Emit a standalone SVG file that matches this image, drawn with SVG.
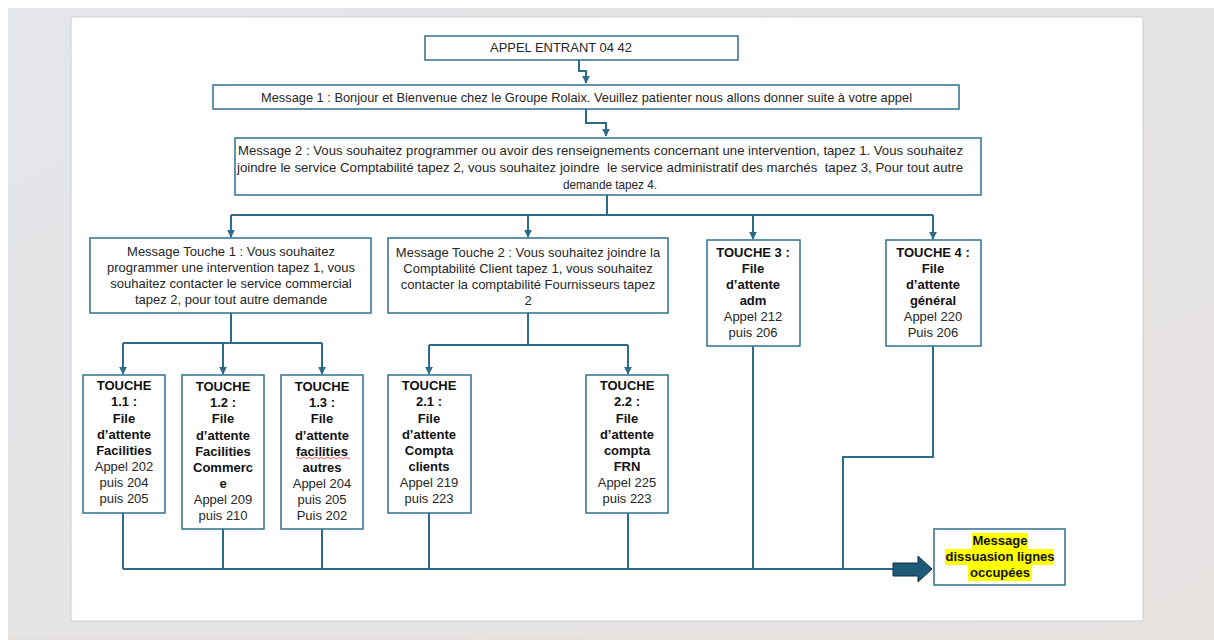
<svg xmlns="http://www.w3.org/2000/svg" width="1214" height="640" viewBox="0 0 1214 640">
<defs>
<style>
.bx{fill:#fff;stroke:#31708e;stroke-width:1.5}
.ln{fill:none;stroke:#2d6b8a;stroke-width:2}
.t{font-family:"Liberation Sans",Arial,sans-serif;font-size:13px;fill:#262626;text-anchor:middle}
.n{font-family:"Liberation Sans",Arial,sans-serif;font-size:13px;fill:#262626}
.b{font-weight:bold;fill:#111}
</style>
<marker id="ar" viewBox="0 0 10 10" refX="9" refY="5" markerWidth="4" markerHeight="4" orient="auto">
<path d="M0,0 L10,5 L0,10 z" fill="#2d6b8a"/>
</marker>
<linearGradient id="bg" x1="0" y1="0" x2="1" y2="1">
<stop offset="0" stop-color="#e4e6ea"/>
<stop offset="1" stop-color="#e8e3e1"/>
</linearGradient>
</defs>
<rect x="0" y="0" width="1214" height="640" fill="#ffffff"/>
<rect x="8" y="8" width="1206" height="627" fill="url(#bg)"/>
<rect x="8" y="635" width="1206" height="5" fill="#e6e2e0"/>
<rect x="71" y="17" width="1072" height="604" fill="#ffffff" stroke="#cfcbcb" stroke-width="1"/>

<g id="connectors">
<path class="ln" d="M579,60 V71 H586 V83" marker-end="url(#ar)"/>
<path class="ln" d="M586,109 V123 H606 V136" marker-end="url(#ar)"/>
<path class="ln" d="M607,195 V215"/>
<path class="ln" d="M231,215 H933"/>
<path class="ln" d="M231,215 V237" marker-end="url(#ar)"/>
<path class="ln" d="M528,215 V237" marker-end="url(#ar)"/>
<path class="ln" d="M753,215 V239" marker-end="url(#ar)"/>
<path class="ln" d="M933,215 V239" marker-end="url(#ar)"/>
<path class="ln" d="M231,313 V343"/>
<path class="ln" d="M123,343 H322"/>
<path class="ln" d="M123,343 V374" marker-end="url(#ar)"/>
<path class="ln" d="M223,343 V374" marker-end="url(#ar)"/>
<path class="ln" d="M322,343 V374" marker-end="url(#ar)"/>
<path class="ln" d="M528,313 V345"/>
<path class="ln" d="M429,345 H628"/>
<path class="ln" d="M429,345 V374" marker-end="url(#ar)"/>
<path class="ln" d="M628,345 V374" marker-end="url(#ar)"/>
<path class="ln" d="M123,513 V569"/>
<path class="ln" d="M223,529 V569"/>
<path class="ln" d="M322,529 V569"/>
<path class="ln" d="M429,513 V569"/>
<path class="ln" d="M628,513 V569"/>
<path class="ln" d="M753,346 V569"/>
<path class="ln" d="M933,346 V457 H843 V569"/>
<path class="ln" d="M123,569 H894"/>
<path d="M893,563 H918 V556 L932,569 L918,582 V576 H893 Z" fill="#1d5b79" stroke="#0e2f40" stroke-width="1"/>
</g>

<g id="appel">
<rect class="bx" x="425" y="36" width="313" height="24"/>
<text class="n" x="490" y="52" textLength="142" lengthAdjust="spacingAndGlyphs">APPEL ENTRANT 04 42</text>
</g>

<g id="message1">
<rect class="bx" x="213" y="85" width="746" height="24"/>
<text class="n" x="261" y="102" textLength="651" lengthAdjust="spacingAndGlyphs">Message 1 : Bonjour et Bienvenue chez le Groupe Rolaix. Veuillez patienter nous allons donner suite à votre appel</text>
</g>

<g id="message2">
<rect class="bx" x="235" y="138" width="746" height="57"/>
<text class="n" x="238" y="155" textLength="725" lengthAdjust="spacingAndGlyphs">Message 2 : Vous souhaitez programmer ou avoir des renseignements concernant une intervention, tapez 1. Vous souhaitez</text>
<text class="n" x="237" y="172" textLength="726" lengthAdjust="spacingAndGlyphs" xml:space="preserve">joindre le service Comptabilité tapez 2, vous souhaitez joindre  le service administratif des marchés  tapez 3, Pour tout autre</text>
<text class="n" x="610" y="189" text-anchor="middle" textLength="94" lengthAdjust="spacingAndGlyphs">demande tapez 4.</text>
</g>

<g id="touche1msg">
<rect class="bx" x="90" y="238" width="281" height="75"/>
<text class="t" x="231" y="256">Message Touche 1 : Vous souhaitez</text>
<text class="t" x="231" y="272">programmer une intervention tapez 1, vous</text>
<text class="t" x="231" y="288">souhaitez contacter le service commercial</text>
<text class="t" x="231" y="304">tapez 2, pour tout autre demande</text>
</g>

<g id="touche2msg">
<rect class="bx" x="388" y="238" width="280" height="75"/>
<text class="t" x="528" y="257">Message Touche 2 : Vous souhaitez joindre la</text>
<text class="t" x="528" y="273">Comptabilité Client tapez 1, vous souhaitez</text>
<text class="t" x="528" y="289">contacter la comptabilité Fournisseurs tapez</text>
<text class="t" x="528" y="305">2</text>
</g>

<g id="touche3">
<rect class="bx" x="707" y="240" width="93" height="106"/>
<text class="t b" x="753" y="257">TOUCHE 3 :</text>
<text class="t b" x="753" y="273">File</text>
<text class="t b" x="753" y="289">d’attente</text>
<text class="t b" x="753" y="305">adm</text>
<text class="t" x="753" y="321">Appel 212</text>
<text class="t" x="753" y="337">puis 206</text>
</g>

<g id="touche4">
<rect class="bx" x="886" y="240" width="95" height="106"/>
<text class="t b" x="933" y="257">TOUCHE 4 :</text>
<text class="t b" x="933" y="273">File</text>
<text class="t b" x="933" y="289">d’attente</text>
<text class="t b" x="933" y="305">général</text>
<text class="t" x="933" y="321">Appel 220</text>
<text class="t" x="933" y="337">Puis 206</text>
</g>

<g id="touche11">
<rect class="bx" x="83" y="375" width="82" height="138"/>
<text class="t b" x="124" y="390">TOUCHE</text>
<text class="t b" x="124" y="406">1.1 :</text>
<text class="t b" x="124" y="423">File</text>
<text class="t b" x="124" y="439">d’attente</text>
<text class="t b" x="124" y="455">Facilities</text>
<text class="t" x="124" y="471">Appel 202</text>
<text class="t" x="124" y="487">puis 204</text>
<text class="t" x="124" y="503">puis 205</text>
</g>

<g id="touche12">
<rect class="bx" x="182" y="375" width="82" height="154"/>
<text class="t b" x="223" y="391">TOUCHE</text>
<text class="t b" x="223" y="407">1.2 :</text>
<text class="t b" x="223" y="423">File</text>
<text class="t b" x="223" y="440">d’attente</text>
<text class="t b" x="223" y="456">Facilities</text>
<text class="t b" x="223" y="472">Commerc</text>
<text class="t b" x="223" y="488">e</text>
<text class="t" x="223" y="504">Appel 209</text>
<text class="t" x="223" y="520">puis 210</text>
</g>

<g id="touche13">
<rect class="bx" x="281" y="375" width="82" height="154"/>
<text class="t b" x="322" y="391">TOUCHE</text>
<text class="t b" x="322" y="407">1.3 :</text>
<text class="t b" x="322" y="423">File</text>
<text class="t b" x="322" y="440">d’attente</text>
<text class="t b" x="322" y="456">facilities</text>
<path d="M296,458 q1.5,-1.5 3,0 t3,0 t3,0 t3,0 t3,0 t3,0 t3,0 t3,0 t3,0 t3,0 t3,0 t3,0 t3,0 t3,0 t3,0 t3,0 t3,0 t3,0" fill="none" stroke="#e03030" stroke-width="0.8"/>
<text class="t b" x="322" y="472">autres</text>
<text class="t" x="322" y="488">Appel 204</text>
<text class="t" x="322" y="504">puis 205</text>
<text class="t" x="322" y="520">Puis 202</text>
</g>

<g id="touche21">
<rect class="bx" x="388" y="375" width="83" height="138"/>
<text class="t b" x="429" y="390">TOUCHE</text>
<text class="t b" x="429" y="406">2.1 :</text>
<text class="t b" x="429" y="423">File</text>
<text class="t b" x="429" y="439">d’attente</text>
<text class="t b" x="429" y="455">Compta</text>
<text class="t b" x="429" y="471">clients</text>
<text class="t" x="429" y="487">Appel 219</text>
<text class="t" x="429" y="503">puis 223</text>
</g>

<g id="touche22">
<rect class="bx" x="586" y="375" width="82" height="138"/>
<text class="t b" x="627" y="390">TOUCHE</text>
<text class="t b" x="627" y="406">2.2 :</text>
<text class="t b" x="627" y="423">File</text>
<text class="t b" x="627" y="439">d’attente</text>
<text class="t b" x="627" y="455">compta</text>
<text class="t b" x="627" y="471">FRN</text>
<text class="t" x="627" y="487">Appel 225</text>
<text class="t" x="627" y="503">puis 223</text>
</g>

<g id="dissuasion">
<rect class="bx" x="934" y="529" width="131" height="56"/>
<rect x="972" y="533" width="56" height="16" fill="#ffff00"/>
<rect x="945" y="549" width="109" height="16" fill="#ffff00"/>
<rect x="968" y="565" width="63" height="16" fill="#ffff00"/>
<text class="t b" x="1000" y="545">Message</text>
<text class="t b" x="1000" y="561">dissuasion lignes</text>
<text class="t b" x="1000" y="577">occupées</text>
</g>
</svg>
